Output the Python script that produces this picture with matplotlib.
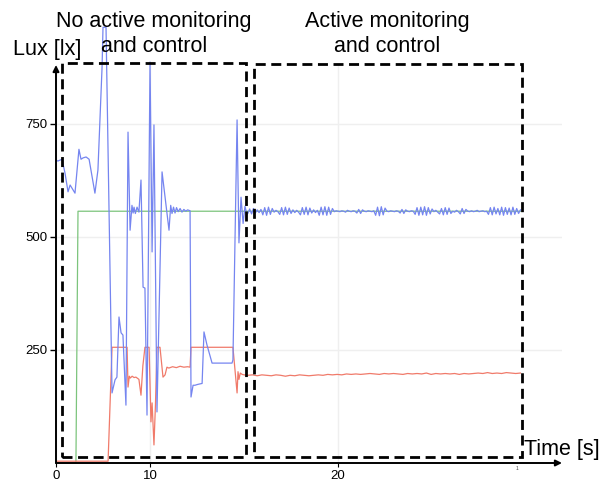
import numpy as np
import matplotlib
matplotlib.use("Agg")
import matplotlib.pyplot as plt
from matplotlib.patches import Rectangle

plt.rcParams['font.family'] = ['Liberation Sans', 'DejaVu Sans']

# setpoint (green)
green_t = [5.0, 6.06, 6.17, 29.7]
green_v = [0, 0, 557, 557]

# measured lux (blue), phase without control
blue_t_left = [5.00, 5.10, 5.32, 5.48, 5.64, 5.75, 5.85, 6.01, 6.22, 6.33, 6.44, 6.60, 6.76,
               7.07, 7.23, 7.45, 7.50, 7.66, 7.98, 8.14, 8.24, 8.35, 8.46, 8.56, 8.72, 8.83,
               8.94, 9.04, 9.10, 9.15, 9.22, 9.31, 9.41, 9.52, 9.63, 9.73, 9.84, 10.00, 10.11,
               10.21, 10.37, 10.64, 11.01, 11.10, 11.17, 11.25, 11.33, 11.41, 11.50, 11.60,
               11.70, 11.80, 11.90, 12.00, 12.13, 12.18, 12.29, 12.39, 12.55, 12.77, 12.87,
               13.03, 13.30, 14.36, 14.41, 14.63, 14.73, 14.84, 14.95, 15.05, 15.15]
blue_v_left = [670, 668, 672, 641, 600, 615, 608, 597, 694, 672, 675, 677, 672,
               597, 648, 876, 964, 964, 155, 184, 190, 323, 288, 283, 128, 732,
               515, 570, 553, 566, 552, 566, 555, 626, 389, 387, 106, 887, 467,
               748, 113, 644, 515, 570, 552, 566, 553, 565, 556, 563,
               555, 561, 557, 560, 558, 146, 172, 172, 174, 176, 290,
               261, 221, 221, 228, 759, 487, 588, 530, 568, 550]

# measured lux (blue), phase with control, sampled every 0.1 s from 15.2 s
blue_v_right = [552, 562, 551, 563, 553, 560, 554, 561,
                549, 565, 548, 566, 550, 563,
                555, 559, 556,
                550, 565, 549, 566, 550, 564, 552,
                560, 554, 559, 555,
                549, 565, 550, 566, 549, 564,
                553, 560, 554, 559,
                548, 566, 549, 567, 548, 566, 550, 563,
                556, 558, 557, 556, 558, 557, 555, 559, 557, 556, 558, 557,
                553, 561, 552, 560,
                557, 556, 558, 557, 556, 558,
                548, 566, 547, 567, 549, 564,
                557, 556, 558, 557, 556, 558, 557,
                553, 561, 552, 560,
                557, 556, 558, 557,
                550, 565, 548, 566, 549, 567, 548, 565, 551, 562,
                556, 559, 555,
                551, 563, 549, 565, 550, 564, 552,
                557, 555, 559, 556,
                551, 563, 552, 561,
                557, 556, 558, 556, 557, 559, 556, 557, 558, 556, 557,
                550, 565, 549, 566, 551, 563, 549, 566, 548, 565, 550, 564,
                549, 566, 550, 563, 552, 560]

# lamp output (red), phase without control
red_t_left = [5.00, 7.77, 7.98, 8.78, 8.83, 8.90, 8.95, 9.05, 9.15, 9.25, 9.41, 9.52,
              9.62, 9.73, 9.95, 10.05, 10.11, 10.21, 10.29, 10.37, 10.53, 10.69, 10.80,
              10.90, 11.00, 11.20, 11.40, 11.60, 11.80, 12.00, 12.13, 12.18, 14.41,
              14.63, 14.68, 14.73, 14.80, 14.90, 15.00]
red_v_left = [4, 4, 256, 256, 168, 192, 188, 192, 189, 190, 185, 150,
              215, 256, 256, 91, 133, 40, 130, 256, 256, 190, 195,
              212, 210, 213, 211, 214, 212, 213, 212, 256, 256,
              155, 202, 185, 199, 196, 195]

# lamp output (red), phase with control, sampled every 0.25 s from 15.2 s
red_v_right = [194, 195, 193, 195, 194, 193, 195, 194, 192, 194,
               193, 195, 194, 193, 194, 195, 194, 196, 195, 196,
               195, 197, 196, 197, 196, 197, 198, 197, 196, 198,
               197, 198, 197, 196, 198, 197, 198, 197, 199, 196,
               198, 197, 198, 197, 198, 196, 198, 197, 198, 199,
               198, 200, 198, 199, 198, 200, 199, 198, 199]

yticks = [250, 500, 750]
xticks = [5.0, 10.0, 20.0]
xticklabels = ['0', '10', '20']

blue_t = blue_t_left + list(15.2 + 0.1 * np.arange(len(blue_v_right)))
blue_v = blue_v_left + blue_v_right
red_t = red_t_left + list(15.2 + 0.25 * np.arange(len(red_v_right)))
red_v = red_v_left + red_v_right

W, H = 609, 483
fig = plt.figure(figsize=(W / 100, H / 100), dpi=100)
x0, x1, y0, y1 = 56, 562, 463, 65
ax = fig.add_axes([x0 / W, (H - y0) / H, (x1 - x0) / W, (y0 - y1) / H])
ax.set_xlim(5.0, 31.91)
ax.set_ylim(0, 880.5)

for s in ax.spines.values():
    s.set_visible(False)

ax.grid(True, color='#efefef', lw=1)
ax.set_axisbelow(True)

ax.plot(green_t, green_v, color='#7cc47c', lw=0.9, clip_on=False)
ax.plot(red_t, red_v, color='#f07a6a', lw=0.9, clip_on=False)
ax.plot(blue_t, blue_v, color='#7585f0', lw=0.9, clip_on=False)

ax.set_yticks(yticks)
ax.set_xticks(xticks)
ax.set_xticklabels(xticklabels)
ax.tick_params(axis='y', length=4, width=1, pad=2, labelsize=9.5)
ax.tick_params(axis='x', length=3, width=0.8, pad=2, labelsize=9.5)

# axes with arrow heads
arrow = dict(arrowstyle='-|>', lw=1.4, color='black', mutation_scale=9, shrinkA=0, shrinkB=0)
ax.annotate('', xy=(0, 1), xytext=(0, 0), xycoords='axes fraction', arrowprops=arrow)
ax.annotate('', xy=(1, 0), xytext=(0, 0), xycoords='axes fraction', arrowprops=arrow)

# dashed boxes for the two phases
dash = (0, (3.6, 2.0))
ax.add_patch(Rectangle((5.32, 13), 15.1 - 5.32, 885 - 13, fill=False, ec='black',
                       lw=2.0, ls=dash, clip_on=False, zorder=5))
ax.add_patch(Rectangle((15.53, 13), 29.79 - 15.53, 883 - 13, fill=False, ec='black',
                       lw=2.0, ls=dash, clip_on=False, zorder=5))

def ftext(px, py, s, **kw):
    fig.text(px / W, 1 - py / H, s, **kw)

ftext(153.5, 27, 'No active monitoring', fontsize=15.5, ha='center', va='baseline')
ftext(154, 52, 'and control', fontsize=15.5, ha='center', va='baseline')
ftext(387, 27, 'Active monitoring', fontsize=15.5, ha='center', va='baseline')
ftext(387, 52, 'and control', fontsize=15.5, ha='center', va='baseline')
ftext(13, 55, 'Lux [lx]', fontsize=15.5, ha='left', va='baseline')
ftext(524, 455, 'Time [s]', fontsize=15.5, ha='left', va='baseline')
ftext(517, 468, '1', fontsize=3.5, ha='center', va='center', color='#444444')

fig.savefig('out.png', dpi=100)
